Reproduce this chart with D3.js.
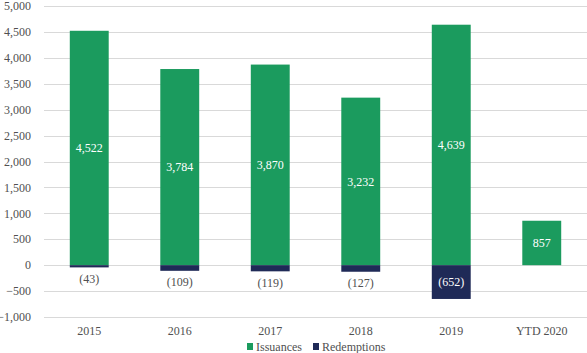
<!DOCTYPE html>
<html>
<head>
<meta charset="utf-8">
<script src="https://cdn.jsdelivr.net/npm/d3@7"></script>
<style>
  body { margin: 0; background: #fff; }
</style>
</head>
<body>
<svg id="chart" width="587" height="353"></svg>
<script>
'use strict';

const categories = ['2015', '2016', '2017', '2018', '2019', 'YTD 2020'];
const issuances = [4522, 3784, 3870, 3232, 4639, 857];
const redemptions = [-43, -109, -119, -127, -652, null];
const yTicks = [-1000, -500, 0, 500, 1000, 1500, 2000, 2500, 3000, 3500, 4000, 4500, 5000];

const green = '#1b9b5e';
const navy = '#1f2a57';
const textColor = '#505050';
const fontFamily = 'Liberation Serif';

const svg = d3.select('#chart');

const x = d3.scaleBand()
  .domain(categories)
  .range([44, 587])
  .paddingInner(0.57)
  .paddingOuter(0.285);

const y = d3.scaleLinear()
  .domain([-1000, 5000])
  .range([317, 6]);

// gridlines
svg.append('g')
  .selectAll('line')
  .data(yTicks)
  .join('line')
  .attr('x1', 44)
  .attr('x2', 587)
  .attr('y1', d => Math.round(y(d)) + 0.5)
  .attr('y2', d => Math.round(y(d)) + 0.5)
  .attr('stroke', '#d9d9d9')
  .attr('stroke-width', 1);

// y axis labels
const fmt = d3.format(',');
svg.append('g')
  .selectAll('text')
  .data(yTicks)
  .join('text')
  .attr('x', 31)
  .attr('y', d => y(d))
  .attr('dy', '0.35em')
  .attr('text-anchor', 'end')
  .attr('font-family', fontFamily)
  .style('font-family', fontFamily)
  .attr('font-size', 12)
  .attr('fill', textColor)
  .text(d => fmt(d));

// issuance bars
svg.append('g')
  .selectAll('rect')
  .data(categories)
  .join('rect')
  .attr('x', d => x(d))
  .attr('width', x.bandwidth())
  .attr('y', (d, i) => y(issuances[i]))
  .attr('height', (d, i) => y(0) - y(issuances[i]))
  .attr('fill', green);

// redemption bars
const redData = categories
  .map((c, i) => ({ cat: c, v: redemptions[i] }))
  .filter(d => d.v != null);

svg.append('g')
  .selectAll('rect')
  .data(redData)
  .join('rect')
  .attr('x', d => x(d.cat))
  .attr('width', x.bandwidth())
  .attr('y', y(0))
  .attr('height', d => y(d.v) - y(0))
  .attr('fill', navy);

// issuance labels
svg.append('g')
  .selectAll('text')
  .data(categories)
  .join('text')
  .attr('x', d => x(d) + x.bandwidth() / 2)
  .attr('y', (d, i) => (y(issuances[i]) + y(0)) / 2)
  .attr('dy', '0.35em')
  .attr('text-anchor', 'middle')
  .attr('font-family', fontFamily)
  .style('font-family', fontFamily)
  .attr('font-size', 12)
  .attr('fill', '#fff')
  .text((d, i) => fmt(issuances[i]));

// redemption labels - inside when the bar is tall enough, else below it
svg.append('g')
  .selectAll('text')
  .data(redData)
  .join('text')
  .attr('x', d => x(d.cat) + x.bandwidth() / 2)
  .attr('y', d => {
    const h = y(d.v) - y(0);
    return h > 20 ? y(0) + h / 2 : y(d.v) + 11;
  })
  .attr('dy', '0.35em')
  .attr('text-anchor', 'middle')
  .attr('font-family', fontFamily)
  .style('font-family', fontFamily)
  .attr('font-size', 12)
  .attr('fill', d => (y(d.v) - y(0) > 20 ? '#fff' : textColor))
  .text(d => '(' + fmt(-d.v) + ')');

// category labels
svg.append('g')
  .selectAll('text')
  .data(categories)
  .join('text')
  .attr('x', d => x(d) + x.bandwidth() / 2)
  .attr('y', 331)
  .attr('dy', '0.35em')
  .attr('text-anchor', 'middle')
  .attr('font-family', fontFamily)
  .style('font-family', fontFamily)
  .attr('font-size', 12)
  .attr('fill', textColor)
  .text(d => d);

// legend
const legend = [
  { name: 'Issuances', color: green, x: 247 },
  { name: 'Redemptions', color: navy, x: 313 }
];
const lg = svg.append('g')
  .selectAll('g')
  .data(legend)
  .join('g')
  .attr('transform', d => 'translate(' + d.x + ',346.5)');
lg.append('rect')
  .attr('x', 0)
  .attr('y', -3.5)
  .attr('width', 6)
  .attr('height', 7)
  .attr('fill', d => d.color);
lg.append('text')
  .attr('x', 9)
  .attr('y', 0)
  .attr('dy', '0.35em')
  .attr('font-family', fontFamily)
  .style('font-family', fontFamily)
  .attr('font-size', 12)
  .attr('fill', textColor)
  .text(d => d.name);
</script>
</body>
</html>
